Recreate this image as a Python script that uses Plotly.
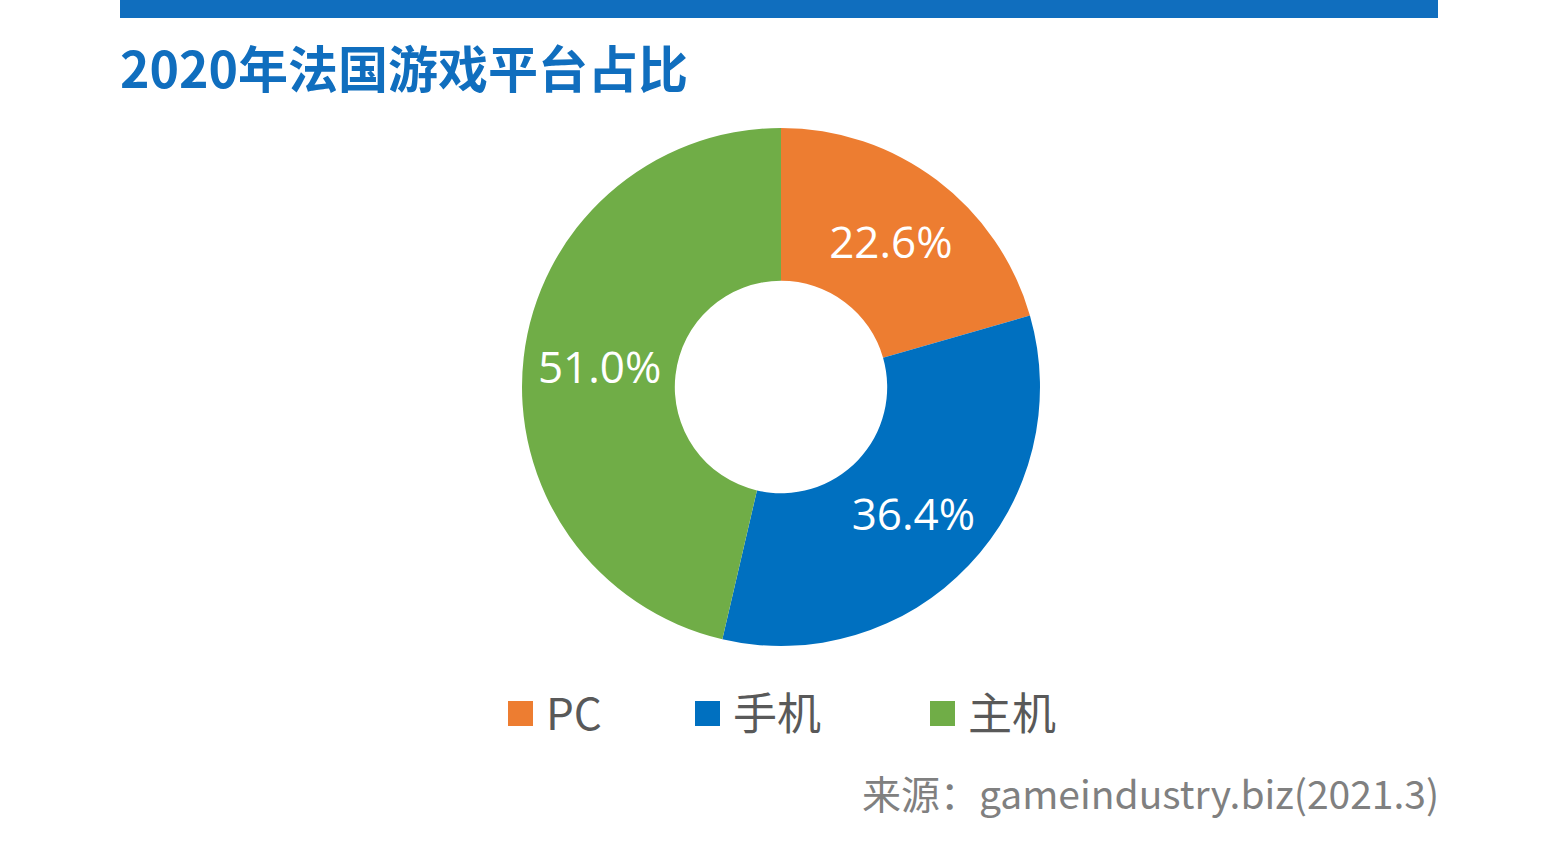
import plotly.graph_objects as go

labels = ["PC", "手机", "主机"]
values = [22.6, 36.4, 51.0]
colors = ["#ED7D31", "#0070C0", "#70AD47"]
title_text = "2020年法国游戏平台占比"
source_text = "来源：gameindustry.biz(2021.3)"

W, H = 1558, 842

def px(x):
    return x / W

def py(y):
    return 1 - y / H

cx, cy, r = 781, 387, 259

fig = go.Figure(go.Pie(
    labels=labels,
    values=values,
    hole=0.41,
    sort=False,
    direction="clockwise",
    rotation=0,
    marker=dict(colors=colors, line=dict(width=0)),
    texttemplate="%{value:.1f}%",
    textposition="inside",
    insidetextorientation="horizontal",
    textfont=dict(family="Open Sans, Noto Sans", size=44, color="white"),
    domain=dict(x=[px(cx - r), px(cx + r)], y=[py(cy + r), py(cy - r)]),
    showlegend=False,
    hoverinfo="label+value",
))

shapes = [dict(type="rect", xref="paper", yref="paper",
               x0=px(120), x1=px(1438), y0=py(18), y1=py(0),
               fillcolor="#106EBE", line=dict(width=0))]
annotations = [
    dict(text="<b>" + title_text + "</b>", xref="paper", yref="paper",
         x=px(118), y=py(66), xanchor="left", yanchor="middle", showarrow=False,
         font=dict(family="Noto Sans CJK SC", size=50, color="#106EBE")),
    dict(text=source_text, xref="paper", yref="paper",
         x=px(1441), y=py(792), xanchor="right", yanchor="middle", showarrow=False,
         font=dict(family="Noto Sans CJK SC", size=39, color="#808080")),
]

leg_sq_x = [508, 695, 930]
for lab, col, sx in zip(labels, colors, leg_sq_x):
    shapes.append(dict(type="rect", xref="paper", yref="paper",
                       x0=px(sx), x1=px(sx + 25), y0=py(726), y1=py(701),
                       fillcolor=col, line=dict(width=0)))
    annotations.append(dict(text=lab, xref="paper", yref="paper",
                            x=px(sx + 36), y=py(711), xanchor="left", yanchor="middle",
                            showarrow=False,
                            font=dict(family="Noto Sans CJK SC", size=44, color="#595959")))

fig.update_layout(
    width=W, height=H,
    margin=dict(l=0, r=0, t=0, b=0),
    paper_bgcolor="white", plot_bgcolor="white",
    shapes=shapes, annotations=annotations,
)

fig.write_html("out.html")
